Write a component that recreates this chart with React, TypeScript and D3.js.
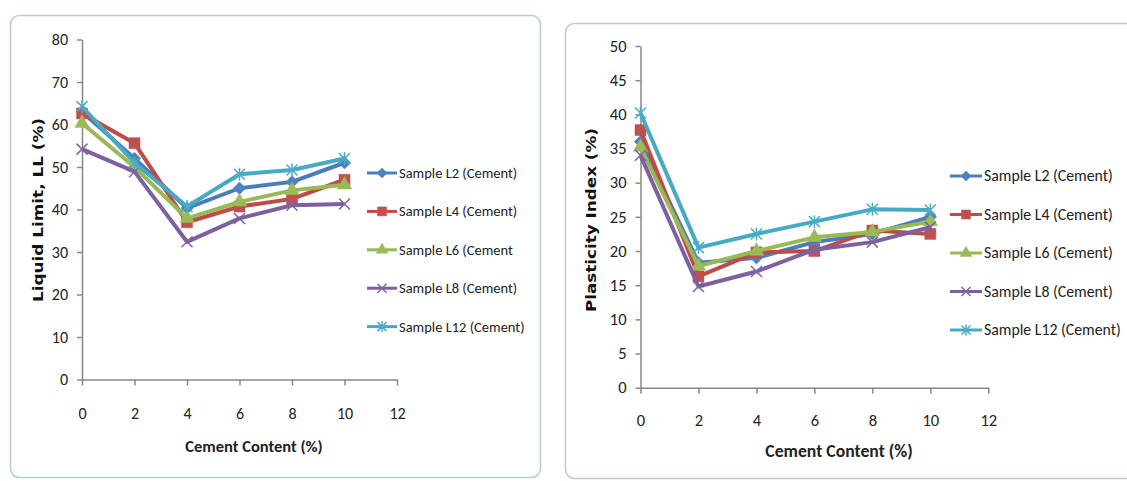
import React, { useEffect, useRef } from 'react';
import * as d3 from 'd3';

// cement content (%) on the x axis
const cement = [0, 2, 4, 6, 8, 10];
const xTicks = [0, 2, 4, 6, 8, 10, 12];

const namesLL = ['Sample L2 (Cement)', 'Sample L4 (Cement)', 'Sample L6 (Cement', 'Sample L8 (Cement)', 'Sample L12 (Cement)'];
const namesPI = ['Sample L2 (Cement)', 'Sample L4 (Cement)', 'Sample L6 (Cement)', 'Sample L8 (Cement)', 'Sample L12 (Cement)'];

// liquid limit (%)
const llL2 = [63, 52, 40.3, 45, 46.5, 51];
const llL4 = [62.6, 55.6, 37, 40.7, 42.5, 47];
const llL6 = [60.3, 50, 37.9, 41.8, 44.5, 45.8];
const llL8 = [54.2, 48.9, 32.4, 37.9, 41, 41.3];
const llL12 = [64.2, 51, 40.7, 48.3, 49.3, 52];

// plasticity index (%)
const piL2 = [36, 18.3, 19, 21.3, 22.5, 25];
const piL4 = [37.7, 16.3, 19.8, 20, 23, 22.5];
const piL6 = [35.2, 17.8, 20, 22, 22.8, 24.3];
const piL8 = [34, 14.8, 17, 20.2, 21.3, 23.5];
const piL12 = [40.2, 20.5, 22.5, 24.3, 26.1, 26];

const llTicks = [0, 10, 20, 30, 40, 50, 60, 70, 80];
const piTicks = [0, 5, 10, 15, 20, 25, 30, 35, 40, 45, 50];

const lineColors = ['#4A7EBB', '#BE4B48', '#98B954', '#7D60A0', '#46AAC5'];
const markColors = ['#4F81BD', '#C0504D', '#9BBB59', '#8064A2', '#4BACC6'];
const markers = ['diamond', 'square', 'triangle', 'x', 'star'];

const FONT = 'Carlito, Lato, sans-serif';

function markerPath(kind: string, s: number) {
  if (kind === 'diamond' || kind === 'square') return d3.symbol().type(d3.symbolSquare).size(s * s)() as string;
  if (kind === 'triangle') return d3.symbol().type(d3.symbolTriangle).size(s * s * 0.75)() as string;
  const h = s / 2;
  const p = d3.path();
  p.moveTo(-h, -h); p.lineTo(h, h);
  p.moveTo(-h, h); p.lineTo(h, -h);
  if (kind === 'star') { p.moveTo(0, -h - 1); p.lineTo(0, h + 1); }
  return p.toString();
}

function drawMarker(g: any, kind: string, i: number, x: number, y: number, s: number) {
  const rot = kind === 'diamond' ? ' rotate(45)' : '';
  const filled = kind !== 'x' && kind !== 'star';
  g.append('path')
    .attr('d', markerPath(kind, kind === 'diamond' ? s * 0.8 : s))
    .attr('transform', `translate(${x},${y})${rot}`)
    .attr('fill', filled ? markColors[i] : 'none')
    .attr('stroke', markColors[i])
    .attr('stroke-width', filled ? 0.5 : 1.5);
}

function drawChart(svg: any, opt: any) {
  const { frame, xr, yr, yMax, yTicks, series, names, yTitle, yTitleX, yTitleY, xTitleX, xTitleY, legend, tickSize, legendSize } = opt;

  svg.append('rect')
    .attr('x', frame[0]).attr('y', frame[1]).attr('width', frame[2]).attr('height', frame[3])
    .attr('rx', 9).attr('fill', '#fff').attr('stroke', '#b8ccd6').attr('stroke-width', 1.5);

  const x = d3.scaleLinear().domain([0, 12]).range(xr);
  const y = d3.scaleLinear().domain([0, yMax]).range(yr);

  const g = svg.append('g');

  // y axis
  const ya = g.append('g').attr('transform', `translate(${xr[0]},0)`)
    .call(d3.axisLeft(y).tickValues(yTicks).tickSize(5).tickSizeOuter(0).tickPadding(9));
  // x axis
  const xa = g.append('g').attr('transform', `translate(0,${yr[0]})`)
    .call(d3.axisBottom(x).tickValues(xTicks).tickSize(6).tickSizeOuter(0).tickPadding(opt.xPad));
  [ya, xa].forEach((a: any) => {
    a.select('.domain').attr('stroke', '#878787').attr('stroke-width', 1.5);
    a.selectAll('.tick line').attr('stroke', '#878787').attr('stroke-width', 1.5);
    a.selectAll('.tick text').attr('fill', '#222').attr('font-family', FONT).attr('font-size', tickSize);
  });

  const line = d3.line<number>().x((_, j) => x(cement[j])).y(d => y(d));
  series.forEach((vals: number[], i: number) => {
    g.append('path').attr('d', line(vals)).attr('fill', 'none')
      .attr('stroke', lineColors[i]).attr('stroke-width', 4).attr('stroke-linejoin', 'round');
    vals.forEach((v, j) => drawMarker(g, markers[i], i, x(cement[j]), y(v), 11));
  });

  // legend
  names.forEach((n: string, i: number) => {
    const ly = legend.y + i * legend.step;
    g.append('line').attr('x1', legend.x).attr('x2', legend.x + legend.len)
      .attr('y1', ly).attr('y2', ly).attr('stroke', lineColors[i]).attr('stroke-width', 3);
    drawMarker(g, markers[i], i, legend.x + legend.len / 2, ly, 9);
    g.append('text').attr('x', legend.x + legend.len + 2).attr('y', ly + 5)
      .attr('font-family', FONT).attr('font-size', legendSize).attr('fill', '#222').text(n);
  });

  // titles
  g.append('text').attr('transform', `translate(${yTitleX},${yTitleY}) rotate(-90)`)
    .attr('text-anchor', 'middle').attr('dy', '0.35em')
    .attr('font-family', 'DejaVu Sans, sans-serif').attr('font-weight', 'bold').attr('font-size', 14)
    .attr('textLength', 184).attr('lengthAdjust', 'spacingAndGlyphs')
    .attr('fill', '#111').text(yTitle);
  g.append('text').attr('x', xTitleX).attr('y', xTitleY).attr('text-anchor', 'middle')
    .attr('font-family', FONT).attr('font-weight', 'bold').attr('font-size', opt.xTitleSize)
    .attr('fill', '#222').text('Cement Content (%)');
}

const App = () => {
  const ref = useRef<SVGSVGElement>(null);
  useEffect(() => {
    const svg = d3.select(ref.current);
    svg.selectAll('*').remove();
    svg.append('rect').attr('width', 1127).attr('height', 481).attr('fill', '#fff');

    drawChart(svg, {
      frame: [10.5, 15.5, 530, 462],
      xr: [82, 397], yr: [379.5, 39.5], yMax: 80, yTicks: llTicks,
      series: [llL2, llL4, llL6, llL8, llL12], names: namesLL,
      yTitle: 'Liquid Limit, LL (%)', yTitleX: 38, yTitleY: 210,
      xTitleX: 254, xTitleY: 452, xTitleSize: 16.5,
      legend: { x: 367, y: 173, step: 38.4, len: 30 },
      tickSize: 16, legendSize: 14.5, xPad: 22,
    });
    drawChart(svg, {
      frame: [565.5, 23.5, 580, 455],
      xr: [640.5, 988.3], yr: [387.7, 46], yMax: 50, yTicks: piTicks,
      series: [piL2, piL4, piL6, piL8, piL12], names: namesPI,
      yTitle: 'Plasticity Index (%)', yTitleX: 591, yTitleY: 220,
      xTitleX: 839, xTitleY: 457, xTitleSize: 17.7,
      legend: { x: 950, y: 176, step: 38.5, len: 32 },
      tickSize: 16.5, legendSize: 15.8, xPad: 21,
    });
  }, []);

  return (
    <div style={{ position: 'fixed', left: 0, top: 0 }}>
      <svg ref={ref} width={1127} height={481} style={{ display: 'block' }} />
    </div>
  );
};

export default App;
